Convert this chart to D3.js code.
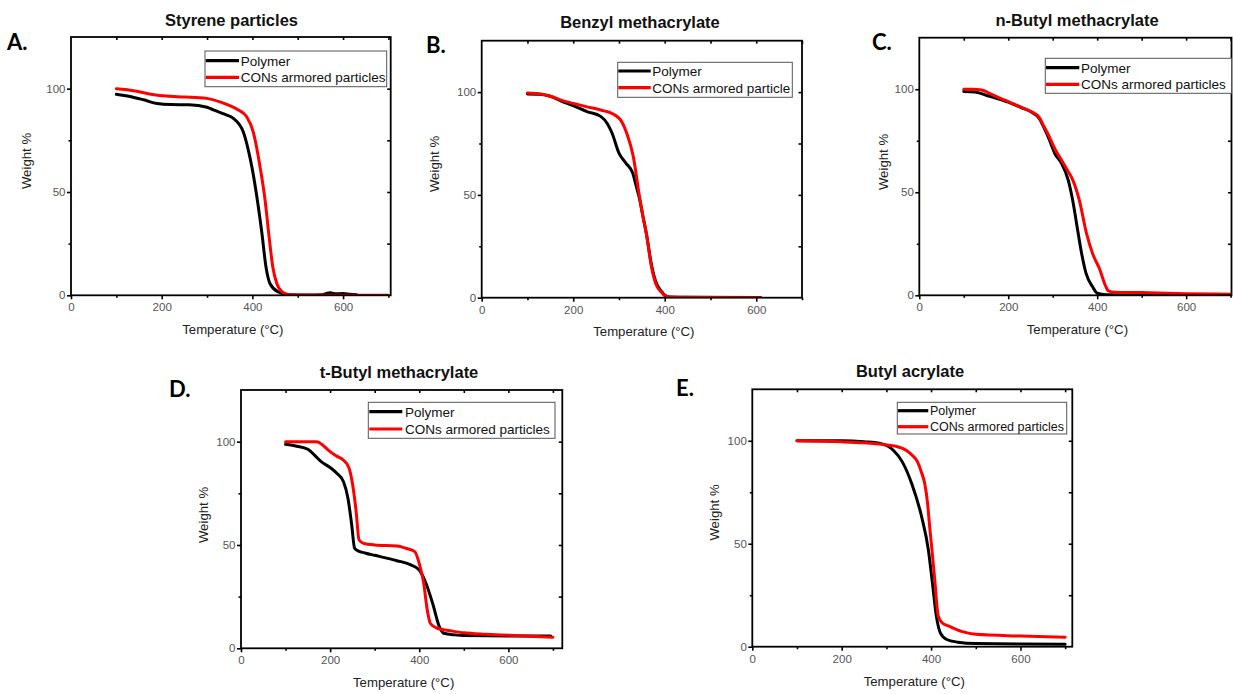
<!DOCTYPE html>
<html><head><meta charset="utf-8">
<script src="https://cdn.jsdelivr.net/npm/d3@7"></script>
<style>body{margin:0;background:#fff} svg{display:block}</style>
</head><body>
<svg id="c" width="1233" height="694"></svg>
<script>
// ---------- DATA ----------
const titles = ["Styrene particles", "Benzyl methacrylate", "n-Butyl methacrylate", "t-Butyl methacrylate", "Butyl acrylate"];
const letters = ["A.", "B.", "C.", "D.", "E."];
const polymerLabel = "Polymer";
const conLabels = ["CONs armored particles", "CONs armored particle", "CONs armored particles", "CONs armored particles", "CONs armored particles"];
const xMajorTicks = [0, 200, 400, 600];
const yMajorTicks = [0, 50, 100];
const xLabel = "Temperature (\u00B0C)";
const yLabel = "Weight %";

// A: Styrene
const tA_poly = [100,130,160,190,220,260,300,314,340,358,380,391,399,411,421,430,439,457,480,520,555,565,572,585,600,615,630];
const wA_poly = [97.3,96.2,94.6,92.8,92.3,92.2,91,89.7,87.5,85.6,79,70.3,62,46,30,13.7,5.6,1.6,0.3,0.1,0.3,1.0,1.2,0.7,0.9,0.5,0.3];
const tA_con  = [100,120,150,180,210,250,299,330,350,369,387,402,417,428,436,445,454,464,476,490,550,700];
const wA_con  = [100,99.6,98.5,97.2,96.4,96,95.3,93.5,91.8,89.7,86.5,79,62,46,30,13.7,5.6,2,0.6,0.1,0,0];

// B: Benzyl methacrylate
const tB_poly = [100,125,150,175,200,230,260,275,285,300,315,330,338,345,352,360,371,380,393,400,410,450,610];
const wB_poly = [99.1,99,98,95.5,93.4,90.5,88.2,84.5,80,70.3,65.5,60.6,54,48,40,31,16,8,3,1.2,0.4,0.2,0.1];
const tB_con  = [100,125,150,175,200,230,260,290,305,317,331,345,352,360,371,380,393,400,410,430,610];
const wB_con  = [99.6,99.2,98,96,94.5,92.8,91.3,89,86,80,69,49,40,31,15,7,2.6,1,0.3,0.2,0];

// C: n-Butyl methacrylate
const tC_poly = [100,125,150,175,200,230,250,270,280,290,305,320,335,345,355,365,375,390,400,420,500,700];
const wC_poly = [98.9,98.7,97.1,95.5,93.7,91,89.2,85.7,81.5,76.8,68.7,63.9,55.8,46,33,20.3,10.6,4,1,0.3,0.2,0.2];
const tC_con  = [100,120,140,160,180,200,230,250,270,280,290,305,320,335,345,360,376,390,405,418,425,440,500,600,700];
const wC_con  = [100,100,99.6,97.8,95.8,94,91.2,89.3,86.2,82,78,71,65.5,60,56,46,30,20,13,5,2.2,1.5,1.3,0.8,0.5];

// D: t-Butyl methacrylate
const tD_poly = [100,125,150,165,180,200,215,230,240,248,255,260,280,300,350,380,400,415,430,445,455,480,500,600,695];
const wD_poly = [98.7,97.8,96.3,93.5,90.3,87.5,84.7,80.6,72.6,60.5,48.4,47.5,46,45,42.4,40.5,37.9,31.5,21.8,10.5,7.3,6.5,6.2,6,5.9];
const tD_con  = [100,170,185,200,215,230,242,250,258,265,275,300,350,370,390,400,410,418,425,440,470,500,550,600,700];
const wD_con  = [100,100,98,95.2,93,91,87.5,79.9,67,52.4,50.8,50,49.5,48.4,46.8,41,31.5,18.5,12,9.7,8.5,7.5,6.8,6.3,5.4];

// E: Butyl acrylate
const tE_poly = [100,150,200,250,290,316,335,357,379,394,403,412,421,435,460,500,600,700];
const wE_poly = [100,100,100,99.5,98.5,95.3,90,79,63,47,31,14.6,6.6,3.5,2.2,1.5,1.3,1.2];
const tE_con  = [100,150,200,250,300,320,345,360,368,378,386,392,397,402,408,416,425,440,470,500,600,700];
const wE_con  = [100,99.8,99.5,99,98,97.4,95.3,92.5,90.4,85,79,70,58,47,33,15,11.5,10,7.3,6,5.2,4.6];

const polyT = [tA_poly, tB_poly, tC_poly, tD_poly, tE_poly];
const polyW = [wA_poly, wB_poly, wC_poly, wD_poly, wE_poly];
const conT  = [tA_con, tB_con, tC_con, tD_con, tE_con];
const conW  = [wA_con, wB_con, wC_con, wD_con, wE_con];

// ---------- LAYOUT ----------
const layout = [
  {L:71,    R:390.7, T:37,    B:295.3, xMax:705, title:[231.5,25.5], letter:[7,50],   yl:[30.5,161], xl:333.5,
   leg:{x:205, y:51, w:181.7, h:35.7, r1:9.7, r2:26.3, lx1:205.7, lx2:239, tx:240.7, fs:13.5}},
  {L:481.7, R:802,   T:40.7,  B:297.7, xMax:700, title:[640,27.5],  letter:[426,53],  yl:[439,164],  xl:336,
   leg:{x:617.7, y:62.3, w:174.6, h:35, r1:8.7, r2:25.4, lx1:618.3, lx2:650.7, tx:652.3, fs:13.5}},
  {L:919.3, R:1231.5,T:37.7,  B:295.3, xMax:702, title:[1077,25.5], letter:[872,50],  yl:[887.5,162],xl:334,
   leg:{x:1045.3, y:58.3, w:186.2, h:35, r1:9.4, r2:26, lx1:1046, lx2:1079.3, tx:1081, fs:13.5}},
  {L:241,   R:562.3, T:390,   B:648.3, xMax:721, title:[399,378],   letter:[169,396.7],yl:[208,515], xl:687,
   leg:{x:368.3, y:402.3, w:186.7, h:36, r1:9.4, r2:26.7, lx1:369.3, lx2:402.3, tx:405, fs:13.5}},
  {L:752.3, R:1072.3,T:389.3, B:646.7, xMax:716, title:[910,376.7], letter:[676,396], yl:[719,512.5],xl:686,
   leg:{x:897.3, y:402.3, w:169.4, h:31.7, r1:8.4, r2:24.4, lx1:898, lx2:928.3, tx:930, fs:12.5}}
];

const svg = d3.select("#c");
const FONT = "'Liberation Sans', Arial, sans-serif";

layout.forEach((p, i) => {
  const x = d3.scaleLinear().domain([0, p.xMax]).range([p.L, p.R]);
  const y = d3.scaleLinear().domain([0, 125]).range([p.B, p.T]);
  const g = svg.append("g");

  const cid = "clip" + i;
  svg.append("clipPath").attr("id", cid).append("rect")
    .attr("x", p.L).attr("y", p.T).attr("width", p.R - p.L).attr("height", p.B - p.T);

  const line = d3.line().x(d => x(d[0])).y(d => y(d[1])).curve(d3.curveMonotoneX);
  const pd = polyT[i].map((t, k) => [t, polyW[i][k]]);
  const cd = conT[i].map((t, k) => [t, conW[i][k]]);
  const lines = g.append("g").attr("clip-path", `url(#${cid})`);
  lines.append("path").datum(pd).attr("d", line).attr("fill", "none")
    .attr("stroke", "#000").attr("stroke-width", 3).attr("stroke-linejoin", "round").attr("stroke-linecap", "round");
  lines.append("path").datum(cd).attr("d", line).attr("fill", "none")
    .attr("stroke", "#ff0000").attr("stroke-width", 3).attr("stroke-linejoin", "round").attr("stroke-linecap", "round");

  const xMinor = d3.range(100, p.xMax + 1, 200);
  const axB = d3.axisBottom(x).tickValues(xMajorTicks).tickSize(4).tickFormat(d3.format("d"));
  const axBm = d3.axisBottom(x).tickValues(xMinor).tickSize(2.5).tickFormat("");
  const axL = d3.axisLeft(y).tickValues(yMajorTicks).tickSize(4).tickFormat(d3.format("d"));
  const axLm = d3.axisLeft(y).tickValues([25, 75]).tickSize(2.5).tickFormat("");
  const axT = d3.axisTop(x).tickValues(d3.range(100, p.xMax + 1, 100)).tickSize(-3).tickFormat("");
  const axR = d3.axisRight(y).tickValues([25, 50, 75, 100]).tickSize(-3.5).tickFormat("");

  const style = sel => {
    sel.select(".domain").remove();
    sel.selectAll(".tick line").attr("stroke", "#000").attr("stroke-width", 1.6);
    sel.selectAll(".tick text").attr("fill", "#555").style("font-family", FONT).style("font-size", "11.5px");
  };
  g.append("g").attr("transform", `translate(0,${p.B})`).call(axB).call(style)
    .selectAll(".tick text").attr("y", 8);
  g.append("g").attr("transform", `translate(0,${p.B})`).call(axBm).call(style);
  g.append("g").attr("transform", `translate(${p.L},0)`).call(axL).call(style)
    .selectAll(".tick text").attr("x", -5.5);
  g.append("g").attr("transform", `translate(${p.L},0)`).call(axLm).call(style);
  g.append("g").attr("transform", `translate(0,${p.T})`).call(axT).call(style);
  g.append("g").attr("transform", `translate(${p.R},0)`).call(axR).call(style);

  g.append("rect").attr("x", p.L).attr("y", p.T).attr("width", p.R - p.L).attr("height", p.B - p.T)
    .attr("fill", "none").attr("stroke", "#000").attr("stroke-width", 1.8);

  g.append("text").attr("x", p.title[0]).attr("y", p.title[1]).attr("text-anchor", "middle")
    .style("font-family", FONT).style("font-weight", "bold").style("font-size", "16.5px").attr("fill", "#111")
    .text(titles[i]);
  g.append("text").attr("x", p.letter[0]).attr("y", p.letter[1])
    .style("font-family", "Lato, 'Open Sans', sans-serif").style("font-weight", "bold").style("font-size", "22px").attr("fill", "#000")
    .text(letters[i]);
  g.append("text").attr("x", (p.L + p.R) / 2 + 2).attr("y", p.xl).attr("text-anchor", "middle")
    .style("font-family", FONT).style("font-size", "13.2px").attr("fill", "#222").text(xLabel);
  g.append("text").attr("transform", `translate(${p.yl[0]},${p.yl[1]}) rotate(-90)`).attr("text-anchor", "middle")
    .style("font-family", FONT).style("font-size", "13.2px").attr("fill", "#222").text(yLabel);

  const lg = p.leg;
  g.append("rect").attr("x", lg.x).attr("y", lg.y).attr("width", lg.w).attr("height", lg.h)
    .attr("fill", "#fff").attr("stroke", "#555").attr("stroke-width", 1);
  [[polymerLabel, "#000", lg.r1], [conLabels[i], "#ff0000", lg.r2]].forEach(([lab, col, dy]) => {
    g.append("line").attr("x1", lg.lx1).attr("x2", lg.lx2).attr("y1", lg.y + dy).attr("y2", lg.y + dy)
      .attr("stroke", col).attr("stroke-width", 3.2);
    g.append("text").attr("x", lg.tx).attr("y", lg.y + dy).attr("dy", "0.36em")
      .style("font-family", FONT).style("font-size", lg.fs + "px").attr("fill", "#111").text(lab);
  });
});
</script>
</body></html>
